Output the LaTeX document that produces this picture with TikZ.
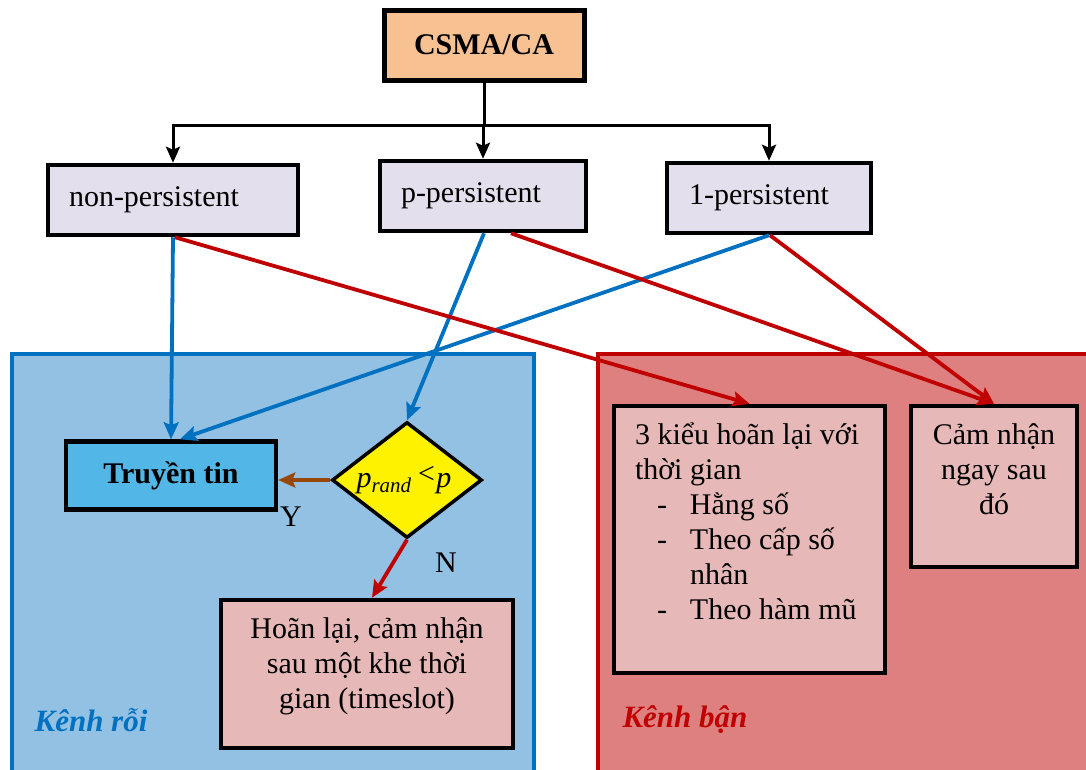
\documentclass[tikz,border=0pt]{standalone}
\usepackage{fontspec}
\setmainfont{Liberation Serif}
\usetikzlibrary{shapes.geometric,arrows.meta,calc}
\definecolor{orangebox}{RGB}{248,193,146}
\definecolor{lavbox}{RGB}{228,223,236}
\definecolor{bluereg}{RGB}{147,193,227}
\definecolor{blueline}{RGB}{0,112,192}
\definecolor{redreg}{RGB}{223,128,128}
\definecolor{redline}{RGB}{192,0,0}
\definecolor{ttbox}{RGB}{82,182,230}
\definecolor{pinkbox}{RGB}{230,184,183}
\definecolor{brownline}{RGB}{151,71,6}
\tikzset{
  basebox/.style={draw=black, line width=4.5pt, inner sep=0pt},
  topbox/.style={basebox, fill=lavbox, minimum height=70pt, align=left},
  pinkrect/.style={basebox, fill=pinkbox},
  arr/.style={line width=3pt, -{Stealth[length=16pt,width=14pt,inset=3pt]}},
  carr/.style={line width=3.8pt, -{Stealth[length=17pt,width=15pt,inset=3pt]}},
  plain/.style={line width=3pt},
}
\newcommand{\fl}{\rule{0pt}{30pt}}
\begin{document}
\begin{tikzpicture}[x=1pt,y=-1pt,font=\fontsize{30}{35}\selectfont]
\useasboundingbox (0,0) rectangle (1086,769);
\clip (0,0) rectangle (1086,769);
% regions
\fill[bluereg] (12,354) rectangle (534,800);
\draw[blueline, line width=3.5pt] (12,800) -- (12,354) -- (534,354) -- (534,800);
\fill[redreg] (598,354) rectangle (1100,800);
\draw[redline, line width=3.5pt] (598,800) -- (598,354) -- (1100,354);
% top
\node[basebox, fill=orangebox, line width=5pt, minimum width=200pt, minimum height=70pt, font=\fontsize{30}{35}\selectfont\bfseries] (csma) at (484,45) {CSMA/CA};
\node[topbox, minimum width=250pt, text width=208pt] (non) at (173,200) {non-persistent};
\node[topbox, minimum width=206pt, text width=164pt] (pp) at (483,196) {p-persistent};
\node[topbox, minimum width=204pt, text width=160pt] (one) at (769,198) {1-persistent};
\coordinate (bus) at (484,125);
\draw[plain] (csma.south) -- (bus);
\draw[arr] (bus) -| (non.north);
\draw[arr] (bus) -- (bus -| pp.north) -- (pp.north);
\draw[arr] (bus) -| (one.north);
% left region
\node[basebox, fill=ttbox, minimum width=210pt, minimum height=68pt, font=\fontsize{30}{35}\selectfont\bfseries] (tt) at (171,475.5) {Truyền tin};
\node[diamond, draw=black, line width=3.5pt, fill=yellow, inner sep=0pt, minimum width=150pt, minimum height=116pt] (dia) at (407,480)
  {\makebox[0pt]{\hspace*{-6pt}\textit{p}\raisebox{-5pt}{\fontsize{21}{21}\selectfont\textit{rand}}\,\raisebox{4pt}{\textit{<}}\textit{p}}};
\node[pinkrect, minimum width=292pt, minimum height=148pt] (ho) at (367,674)
  {\parbox[c][132pt][t]{270pt}{\centering\fl Hoãn lại, cảm nhận\\ sau một khe thời\\ gian (timeslot)}};
\node (yl) at (291,517) {Y};
\node (nl) at (446,563) {N};
\node[text=blueline, font=\fontsize{31}{35}\selectfont\bfseries\itshape] (kr) at (91,720) {Kênh rỗi};
% right region
\node[pinkrect, minimum width=271pt, minimum height=267pt] (k3) at (749.5,539.5)
  {\parbox[c][251pt][t]{229pt}{\raggedright\fl 3 kiểu hoãn lại với\\ thời gian\\
   \makebox[55pt][l]{\hspace*{22pt}-}Hằng số\\
   \makebox[55pt][l]{\hspace*{22pt}-}Theo cấp số\\
   \hspace*{55pt}nhân\\
   \makebox[55pt][l]{\hspace*{22pt}-}Theo hàm mũ}};
\node[pinkrect, minimum width=166pt, minimum height=161pt] (cam) at (994,486.5)
  {\parbox[c][145pt][t]{150pt}{\centering\fl Cảm nhận\\ ngay sau\\ đó}};
\node[text=redline, font=\fontsize{31}{35}\selectfont\bfseries\itshape] (kb) at (685,720) {Kênh bận};
% connectors
\draw[carr, blueline] (non.south) -- (tt.north);
\draw[carr, blueline] (one.south) -- ([xshift=9pt]tt.north);
\draw[carr, blueline] ([xshift=1pt]pp.south) -- (dia.north);
\draw[carr, redline] ([xshift=2pt]non.south) -- (k3.north);
\draw[carr, redline] ([xshift=28pt]pp.south) -- (cam.north);
\draw[carr, redline] ([xshift=1pt]one.south) -- (cam.north);
\draw[carr, brownline] (dia.west) -- (dia.west -| tt.east);
\draw[carr, redline] (dia.south) -- ([xshift=5pt]ho.north);
\end{tikzpicture}
\end{document}
